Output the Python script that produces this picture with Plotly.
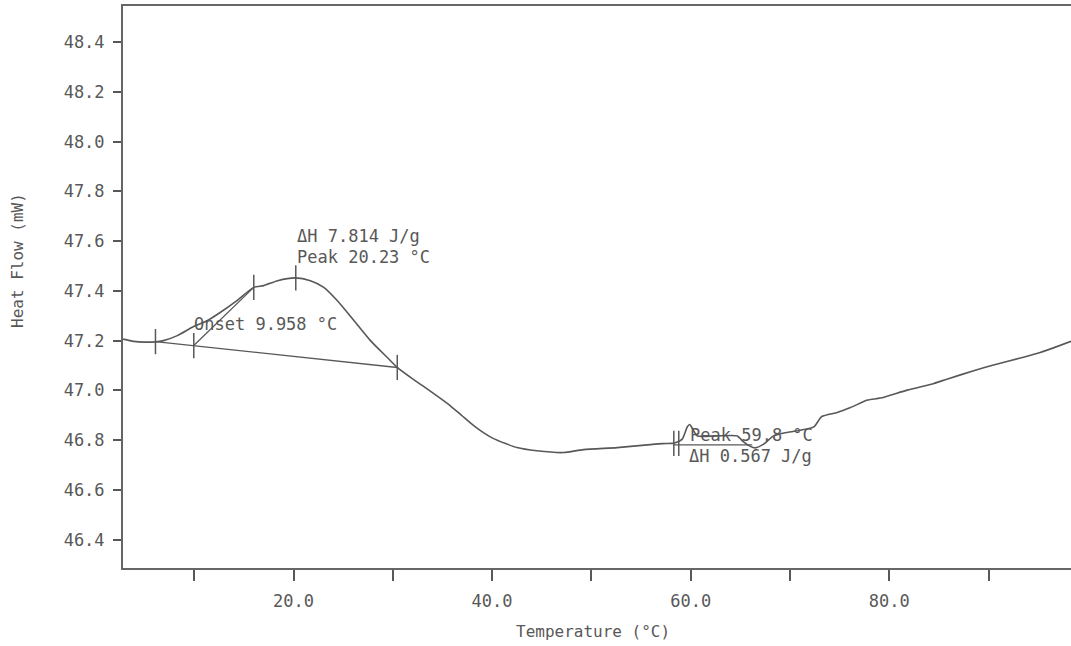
import plotly.graph_objects as go

# DSC heating trace: temperature (°C) vs heat flow (mW)
temp = [2.83, 3.9, 5.0, 6.1, 6.9, 8.3, 9.9, 11.3, 12.65, 14.3, 16.0, 17.0, 18.4,
        20.2, 21.7, 23.05, 24.4, 26.1, 27.75, 29.45, 30.45, 32.1, 33.1, 34.8,
        35.8, 37.0, 38.15, 39.2, 40.15, 42.5, 44.5, 47.2, 49.2, 52.6, 55.95,
        57.2, 58.3, 59.15, 59.65, 59.9, 60.2, 60.65, 62.5, 64.7, 65.2, 66.0,
        66.5, 67.35, 68.35, 69.7, 71.05, 72.4, 73.2, 74.75, 76.1, 77.8, 79.1,
        81.8, 84.5, 85.8, 88.5, 90.5, 93.2, 95.2, 98.3]
heat_flow = [47.206, 47.197, 47.194, 47.195, 47.200, 47.220, 47.256, 47.280,
             47.314, 47.361, 47.414, 47.421, 47.441, 47.452, 47.441, 47.414,
             47.361, 47.280, 47.200, 47.132, 47.092, 47.043, 47.016, 46.968,
             46.938, 46.897, 46.858, 46.828, 46.806, 46.770, 46.757, 46.750,
             46.762, 46.770, 46.782, 46.786, 46.788, 46.804, 46.853, 46.863,
             46.845, 46.817, 46.817, 46.817, 46.797, 46.775, 46.769, 46.784,
             46.817, 46.831, 46.840, 46.853, 46.895, 46.911, 46.931, 46.961,
             46.969, 47.001, 47.028, 47.045, 47.079, 47.102, 47.130, 47.152,
             47.197]

# Integration baseline and onset tangent of the main transition
base1_t = [6.1, 30.45]
base1_v = [47.196, 47.092]
tangent_t = [9.958, 16.0]
tangent_v = [47.180, 47.414]

# Baseline of the small transition near 60 °C
base2_t = [58.3, 66.2]
base2_v = [46.781, 46.781]

# Limit / peak markers on the trace
mark_t = [6.1, 9.958, 16.0, 20.23, 30.45, 58.3, 58.8]
mark_v = [47.196, 47.180, 47.414, 47.452, 47.092, 46.787, 46.787]

x_ticks = [10, 20, 30, 40, 50, 60, 70, 80, 90]
x_ticktext = ["", "20.0", "", "40.0", "", "60.0", "", "80.0", ""]
y_ticks = [46.4, 46.6, 46.8, 47.0, 47.2, 47.4, 47.6, 47.8, 48.0, 48.2, 48.4]

ink = "#585858"
mono = "DejaVu Sans Mono"

fig = go.Figure()
fig.add_trace(go.Scatter(x=temp, y=heat_flow, mode="lines",
                         line=dict(color=ink, width=1.6, shape="spline", smoothing=0.6)))
fig.add_trace(go.Scatter(x=base1_t, y=base1_v, mode="lines", line=dict(color=ink, width=1.3)))
fig.add_trace(go.Scatter(x=tangent_t, y=tangent_v, mode="lines", line=dict(color=ink, width=1.3)))
fig.add_trace(go.Scatter(x=base2_t, y=base2_v, mode="lines", line=dict(color=ink, width=1.3)))
fig.add_trace(go.Scatter(x=mark_t, y=mark_v, mode="markers",
                         marker=dict(symbol="line-ns", size=18,
                                     line=dict(color=ink, width=1.5))))

labels = [
    (20.22, 47.620, "ΔH 7.814 J/g"),
    (20.22, 47.538, "Peak 20.23 °C"),
    (9.85, 47.268, "Onset 9.958 °C"),
    (59.83, 46.819, "Peak 59.8 °C"),
    (59.73, 46.737, "ΔH 0.567 J/g"),
]
for lx, ly, txt in labels:
    fig.add_annotation(x=lx, y=ly, text=txt, showarrow=False, xanchor="left",
                       yanchor="middle", borderpad=0,
                       font=dict(family=mono, size=17, color=ink))

fig.add_annotation(text="Temperature (°C)", xref="paper", yref="paper",
                   x=(593 - 123) / 948, y=(646 - 631 - 78) / 562, showarrow=False,
                   xanchor="center", yanchor="middle",
                   font=dict(family=mono, size=16, color=ink))
fig.add_annotation(text="Heat Flow (mW)", xref="paper", yref="paper",
                   x=(17 - 123) / 948, y=(568 - 261) / 562, showarrow=False,
                   textangle=-90, xanchor="center", yanchor="middle",
                   font=dict(family=mono, size=16, color=ink))

fig.update_layout(
    width=1071, height=646,
    margin=dict(l=123, r=0, t=6, b=78),
    paper_bgcolor="white", plot_bgcolor="white",
    showlegend=False,
    xaxis=dict(range=[2.83, 98.3], tickvals=x_ticks, ticktext=x_ticktext,
               ticks="outside", ticklen=11, tickwidth=1.5, tickcolor=ink,
               showline=True, linecolor="#666", linewidth=2, mirror=True,
               showgrid=False, zeroline=False, ticklabelstandoff=6,
               tickfont=dict(family=mono, size=17, color=ink)),
    yaxis=dict(range=[46.286, 48.545], tickvals=y_ticks, tickformat=".1f",
               ticks="outside", ticklen=8, tickwidth=1.5, tickcolor=ink,
               showline=True, linecolor="#666", linewidth=2, mirror=False,
               showgrid=False, zeroline=False, ticklabelstandoff=5,
               tickfont=dict(family=mono, size=17, color=ink)),
)

fig.write_html("out.html")
